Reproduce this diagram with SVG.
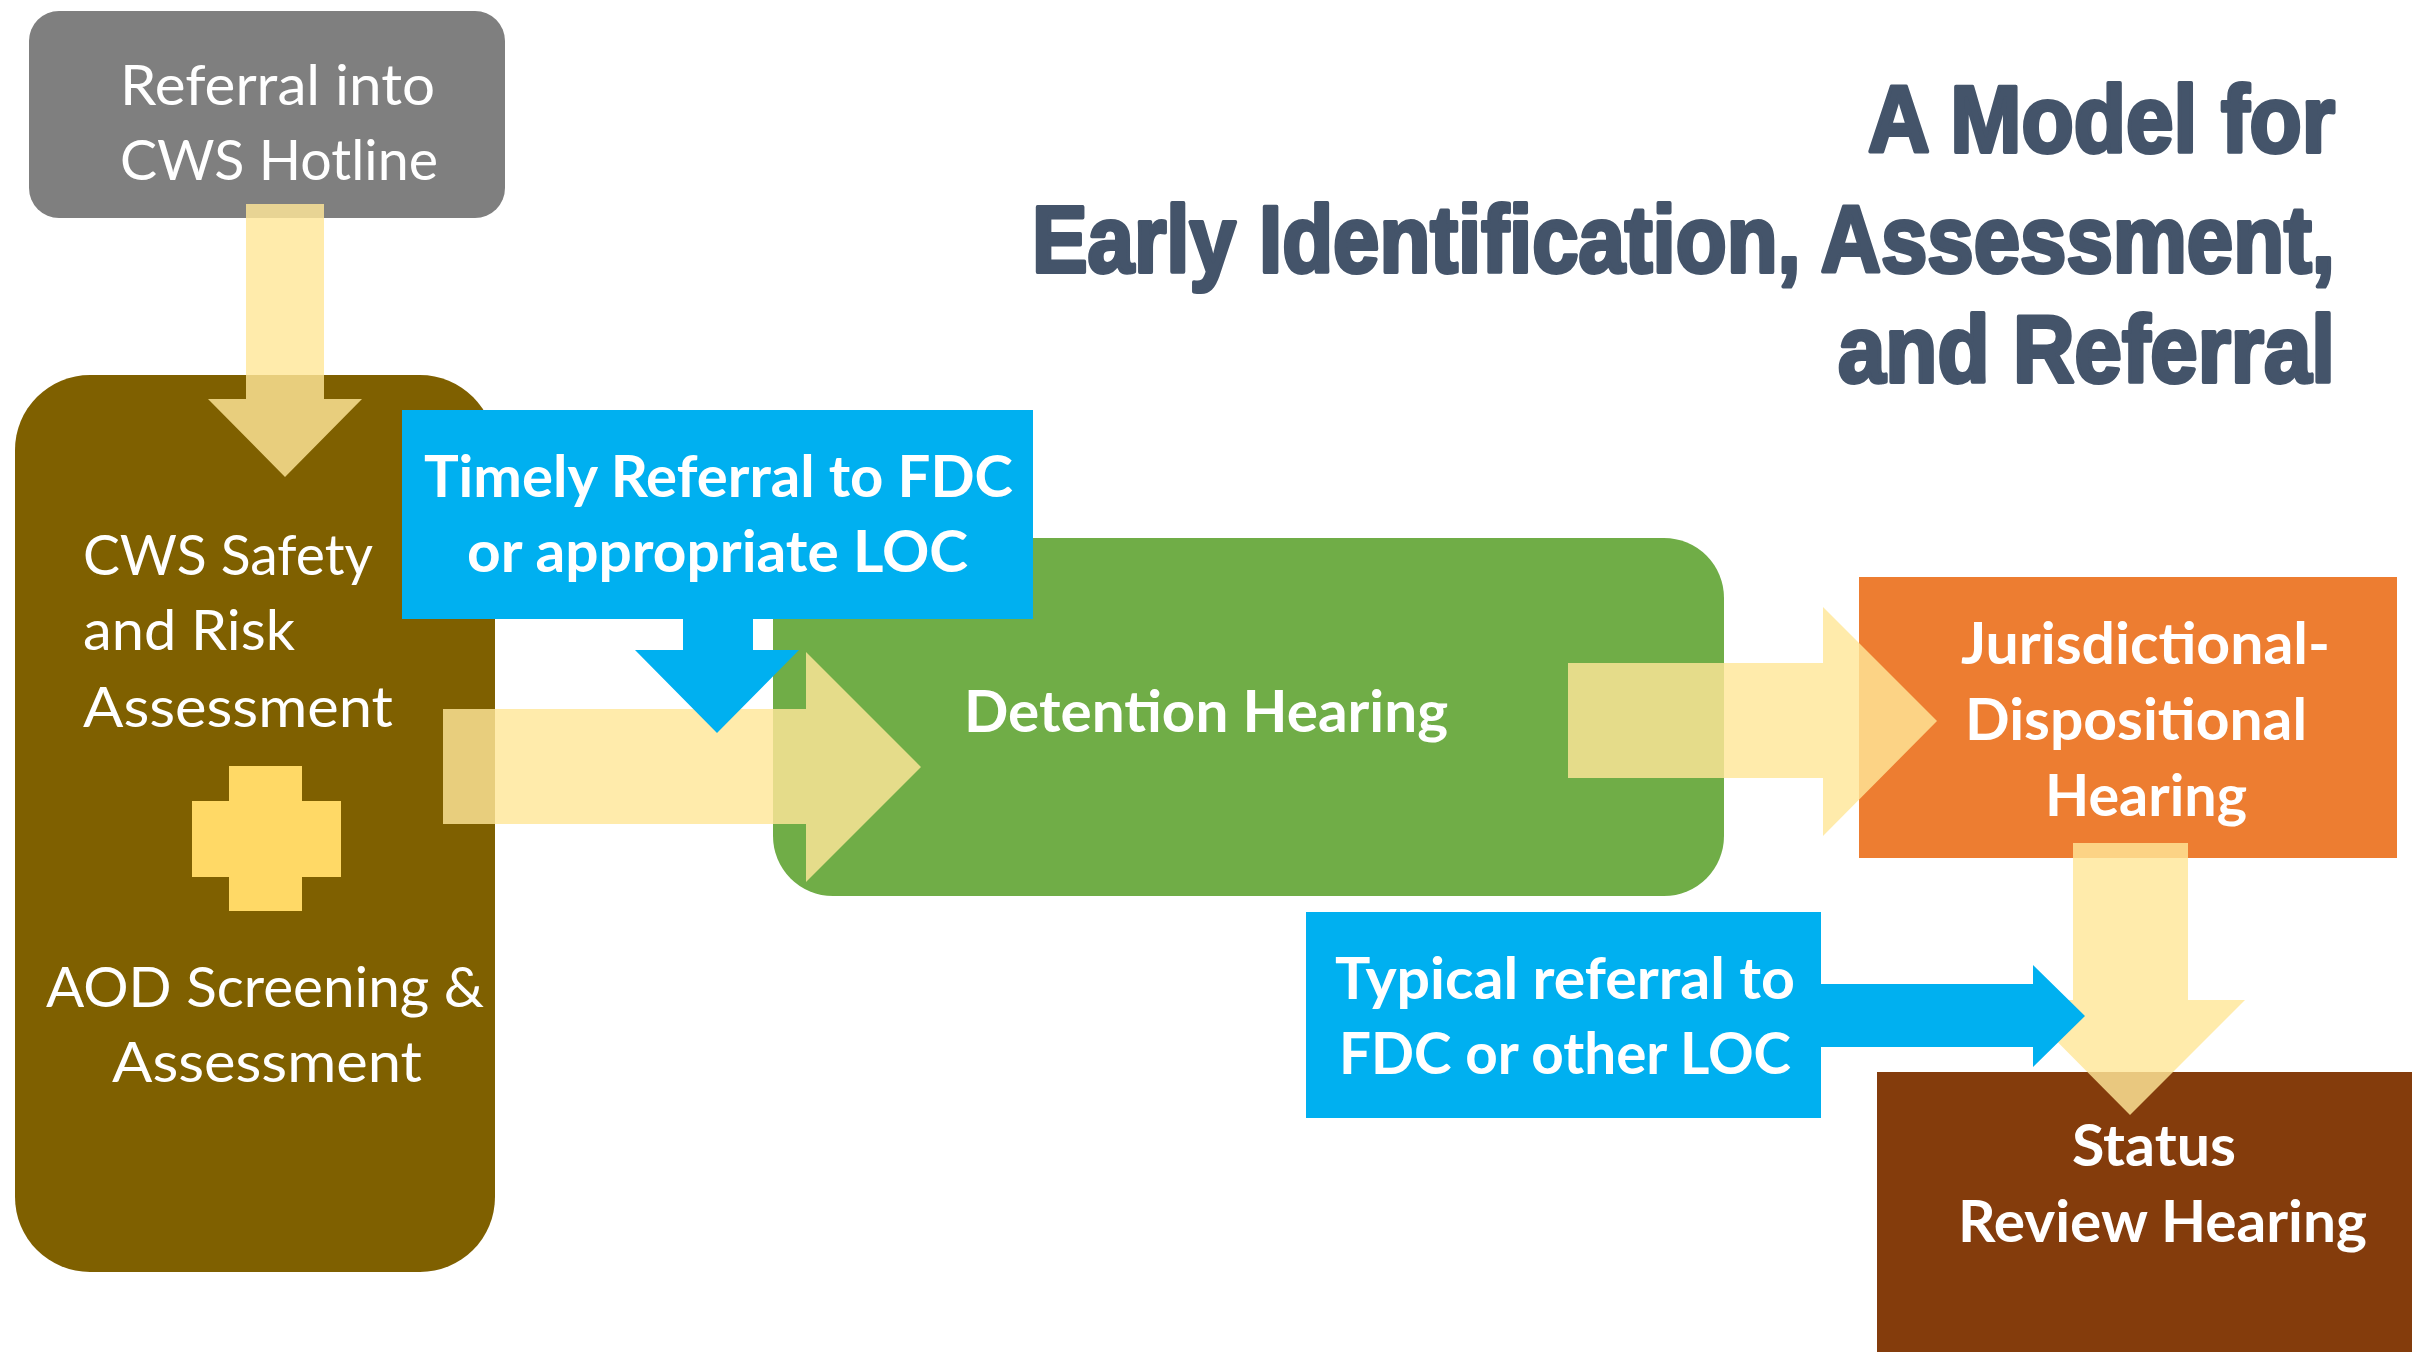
<svg xmlns="http://www.w3.org/2000/svg" width="2412" height="1352" viewBox="0 0 2412 1352">
<style>
.t{font-family:Lato,"Open Sans","Liberation Sans",sans-serif;font-size:57px;fill:#FFFFFF}
.b{font-weight:bold}
.title{font-family:"Liberation Sans",Arial,sans-serif;font-weight:bold;font-size:94px;fill:#44546A;stroke:#44546A;stroke-width:4;stroke-linejoin:round}
.ya{fill:#FFE699;fill-opacity:0.82}
.ba{fill:#00B0F0}
</style>
<rect x="0" y="0" width="2412" height="1352" fill="#FFFFFF"/>
<g id="title">
<text class="title" x="1868" y="152" textLength="467" lengthAdjust="spacingAndGlyphs">A Model for</text>
<text class="title" x="1032" y="272" textLength="1303" lengthAdjust="spacingAndGlyphs">Early Identification, Assessment,</text>
<text class="title" x="1838" y="382" textLength="497" lengthAdjust="spacingAndGlyphs">and Referral</text>
</g>
<g id="safety-assessment">
<rect x="15" y="375" width="480" height="897" rx="75" ry="75" fill="#7F6000"/>
<text class="t" x="83" y="575" textLength="290" lengthAdjust="spacingAndGlyphs">CWS Safety</text>
<text class="t" x="83" y="650" textLength="212" lengthAdjust="spacingAndGlyphs">and Risk</text>
<text class="t" x="83" y="727" textLength="310" lengthAdjust="spacingAndGlyphs">Assessment</text>
<path d="M229 766 H302 V801 H341 V877 H302 V911 H229 V877 H192 V801 H229 Z" fill="#FFD966"/>
<text class="t" x="46" y="1007" textLength="438" lengthAdjust="spacingAndGlyphs">AOD Screening &amp;</text>
<text class="t" x="112" y="1082" textLength="310" lengthAdjust="spacingAndGlyphs">Assessment</text>
</g>
<g id="hotline">
<rect x="29" y="11" width="476" height="207" rx="30" ry="30" fill="#7F7F7F"/>
<text class="t" x="120" y="105" textLength="315" lengthAdjust="spacingAndGlyphs">Referral into</text>
<text class="t" x="120" y="180" textLength="318" lengthAdjust="spacingAndGlyphs">CWS Hotline</text>
</g>
<g id="detention">
<rect x="773" y="538" width="951" height="358" rx="60" ry="60" fill="#70AD47"/>
<text class="t b" x="964" y="732" textLength="484" lengthAdjust="spacingAndGlyphs">Detention Hearing</text>
</g>
<g id="timely-referral">
<rect x="402" y="410" width="631" height="209" fill="#00B0F0"/>
<text class="t b" x="424" y="497" textLength="589" lengthAdjust="spacingAndGlyphs">Timely Referral to FDC</text>
<text class="t b" x="467" y="572" textLength="501" lengthAdjust="spacingAndGlyphs">or appropriate LOC</text>
</g>
<g id="jurisdictional">
<rect x="1859" y="577" width="538" height="281" fill="#ED7D31"/>
<text class="t b" x="1961" y="664" textLength="369" lengthAdjust="spacingAndGlyphs">Jurisdictional-</text>
<text class="t b" x="1965" y="740" textLength="342" lengthAdjust="spacingAndGlyphs">Dispositional</text>
<text class="t b" x="2045" y="816" textLength="202" lengthAdjust="spacingAndGlyphs">Hearing</text>
</g>
<g id="status-review">
<rect x="1877" y="1072" width="535" height="280" fill="#843C0C"/>
<text class="t b" x="2072" y="1166" textLength="164" lengthAdjust="spacingAndGlyphs">Status</text>
<text class="t b" x="1958" y="1242" textLength="409" lengthAdjust="spacingAndGlyphs">Review Hearing</text>
</g>
<g id="typical-referral">
<rect x="1306" y="912" width="515" height="206" fill="#00B0F0"/>
<text class="t b" x="1335" y="999" textLength="460" lengthAdjust="spacingAndGlyphs">Typical referral to</text>
<text class="t b" x="1339" y="1074" textLength="452" lengthAdjust="spacingAndGlyphs">FDC or other LOC</text>
</g>
<g id="connectors">
<path class="ya" d="M246 204 H324 V399 H362 L285 477 L208 399 H246 Z"/>
<path class="ya" d="M443 709 H806 V652 L921 767 L806 882 V824 H443 Z"/>
<path class="ya" d="M1568 663 H1823 V607 L1937 721 L1823 836 V778 H1568 Z"/>
<path class="ya" d="M2073 843 H2188 V1000 H2245 L2130 1115 L2016 1000 H2073 Z"/>
<path class="ba" d="M683 619 H753 V650 H799 L717 733 L635 650 H683 Z"/>
<path class="ba" d="M1821 984 H2033 V965 L2085 1016 L2033 1067 V1047 H1821 Z"/>
</g>
</svg>
